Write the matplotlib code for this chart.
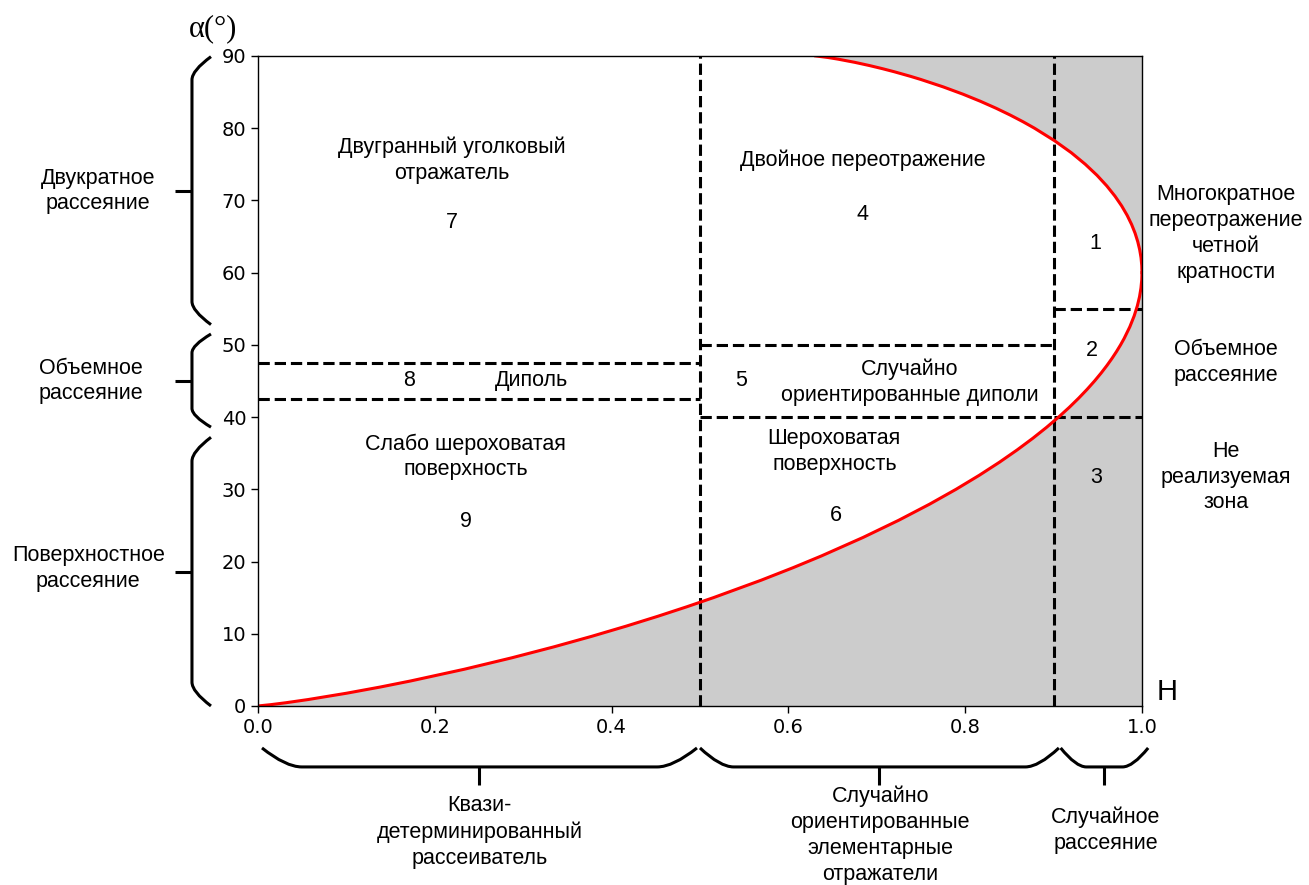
import matplotlib
matplotlib.use('Agg')
import matplotlib.pyplot as plt
from matplotlib.path import Path
from matplotlib.patches import PathPatch
import matplotlib.transforms as mtransforms

# ---------------- data ----------------
# lower boundary curve of the feasible H-alpha region
H_low = [0.0, 0.01437, 0.03167, 0.0568, 0.10022, 0.13825, 0.17266, 0.23371,
         0.28709, 0.33465, 0.37754, 0.41653, 0.45220, 0.48500, 0.51527,
         0.56934, 0.60507, 0.63732, 0.68449, 0.72484, 0.75959, 0.78969,
         0.81589, 0.83879, 0.85884, 0.87648, 0.89201, 0.90572, 0.91783,
         0.92853, 0.93800, 0.94640, 0.95382, 0.96038, 0.96619, 0.97130,
         0.97582, 0.97978, 0.98627, 0.99116, 0.99474, 0.99724, 0.99885,
         0.99975, 1.0]
alpha_low = [0.0, 0.18, 0.448, 0.891, 1.765, 2.621, 3.462, 5.094,
             6.667, 8.182, 9.643, 11.053, 12.414, 13.729, 15.0,
             17.419, 19.134, 20.769, 23.333, 25.714, 27.931, 30.0,
             31.935, 33.75, 35.455, 37.059, 38.571, 40.0, 41.351,
             42.632, 43.846, 45.0, 46.098, 47.143, 48.14, 49.09,
             50.0, 50.87, 52.5, 54.0, 55.385, 56.667, 57.857,
             59.0, 60.0]
# upper boundary curve
H_up = [0.63093, 0.64523, 0.65633, 0.67525, 0.69166, 0.70641, 0.71992,
        0.73836, 0.74966, 0.77515, 0.79745, 0.81723, 0.83493, 0.85086,
        0.86527, 0.87835, 0.90109, 0.92006, 0.93589, 0.94916, 0.96023,
        0.96944, 0.97705, 0.98326, 0.98827, 0.99222, 0.99523, 0.99743,
        0.99894, 0.99974, 1.0]
alpha_up = [90.0, 89.776, 89.552, 89.109, 88.67, 88.235, 87.805,
            87.167, 86.747, 85.714, 84.706, 83.72, 82.759, 81.818,
            80.899, 80.0, 78.261, 76.6, 75.0, 73.469, 72.0,
            70.588, 69.231, 67.925, 66.667, 65.455, 64.286, 63.158,
            62.069, 61.02, 60.0]

# zone boundaries
v_bounds = [0.5, 0.9]
hseg_x0 = [0.0, 0.0, 0.5, 0.5, 0.9, 0.9]
hseg_x1 = [0.5, 0.5, 0.9, 0.9, 1.0, 1.0]
hseg_y = [47.5, 42.5, 50.0, 40.0, 55.0, 40.0]

# zone texts (H, alpha, text)
zone_texts = [
    (0.219, 75.6, "Двугранный уголковый\nотражатель"),
    (0.219, 66.9, "7"),
    (0.684, 75.5, "Двойное переотражение"),
    (0.684, 68.1, "4"),
    (0.947, 64.0, "1"),
    (0.943, 49.2, "2"),
    (0.948, 31.7, "3"),
    (0.171, 45.0, "8"),
    (0.309, 45.0, "Диполь"),
    (0.546, 45.0, "5"),
    (0.7376, 44.8, "Случайно\nориентированные диполи"),
    (0.235, 34.5, "Слабо шероховатая\nповерхность"),
    (0.235, 25.6, "9"),
    (0.652, 35.2, "Шероховатая\nповерхность"),
    (0.654, 26.4, "6"),
]
right_texts = [
    (1.095, 65.4, "Многократное\nпереотражение\nчетной\nкратности"),
    (1.095, 47.6, "Объемное\nрассеяние"),
    (1.095, 31.7, "Не\nреализуемая\nзона"),
]
left_texts = [
    (-0.181, 71.3, "Двукратное\nрассеяние"),
    (-0.189, 45.0, "Объемное\nрассеяние"),
    (-0.192, 19.0, "Поверхностное\nрассеяние"),
]
bottom_texts = [
    (0.251, -17.45, "Квази-\nдетерминированный\nрассеиватель"),
    (0.704, -17.9, "Случайно\nориентированные\nэлементарные\nотражатели"),
    (0.959, -17.2, "Случайное\nрассеяние"),
]
# braces: ranges
left_brace_lo = [52.8, 38.6, 0.0]
left_brace_hi = [89.9, 51.5, 37.2]
left_brace_curl = [3.2, 2.6, 3.3]
bottom_brace_lo = [0.0045, 0.500, 0.908]
bottom_brace_hi = [0.4966, 0.906, 1.007]
bottom_brace_curl = [0.045, 0.038, 0.029]

xticks = [0.0, 0.2, 0.4, 0.6, 0.8, 1.0]
yticks = [0, 10, 20, 30, 40, 50, 60, 70, 80, 90]

# ---------------- figure ----------------
fig = plt.figure(figsize=(13.09, 8.85), dpi=100)
ax = fig.add_axes([0.1971, 0.2023, 0.6753, 0.7345])

TXT = dict(family=['Liberation Sans', 'DejaVu Sans'], fontsize=15.5, ha='center', va='center')

gray = '#cccccc'
ax.fill_between(H_low, 0, alpha_low, color=gray, lw=0, zorder=1)
ax.fill_between(H_up, alpha_up, 90, color=gray, lw=0, zorder=1)

for xv in v_bounds:
    ax.plot([xv, xv], [0, 90], ls='--', color='black', lw=2.2, zorder=3)
for x0, x1, y in zip(hseg_x0, hseg_x1, hseg_y):
    ax.plot([x0, x1], [y, y], ls='--', color='black', lw=2.2, zorder=3)

ax.plot(H_low, alpha_low, color='red', lw=2.2, zorder=4, solid_joinstyle='round')
ax.plot(H_up, alpha_up, color='red', lw=2.2, zorder=4, solid_joinstyle='round')

ax.set_xlim(0, 1)
ax.set_ylim(0, 90)
ax.set_xticks(xticks)
ax.set_yticks(yticks)
ax.set_xticklabels([f"{v:.1f}" for v in xticks])
ax.tick_params(labelsize=14, length=5, width=1.0)
for sp in ax.spines.values():
    sp.set_linewidth(1.0)
    sp.set_zorder(5)

for x, y, s in zone_texts + right_texts + left_texts + bottom_texts:
    ax.text(x, y, s, clip_on=False, linespacing=1.3, **TXT)

ax.text(-0.051, 93.7, "α(°)", family=['Liberation Serif', 'DejaVu Serif'],
        fontsize=22, ha='center', va='center', clip_on=False)
ax.text(1.029, 1.9, "H", family=['Liberation Sans', 'DejaVu Sans'],
        fontsize=21, ha='center', va='center', clip_on=False)

# ---------------- braces ----------------
BR = dict(fill=False, lw=2.2, edgecolor='black', clip_on=False, capstyle='butt', joinstyle='round')
trL = mtransforms.blended_transform_factory(ax.transAxes, ax.transData)
xt, xv_, xk = -0.0532, -0.0747, -0.0939
c = 0.6
for y0, y1, cu in zip(left_brace_lo, left_brace_hi, left_brace_curl):
    verts = [(xt, y1), (xv_, y1 - c * cu), (xv_, y1 - cu),
             (xv_, y0 + cu), (xv_, y0 + c * cu), (xt, y0)]
    codes = [Path.MOVETO, Path.CURVE3, Path.CURVE3, Path.LINETO, Path.CURVE3, Path.CURVE3]
    ax.add_patch(PathPatch(Path(verts, codes), transform=trL, **BR))
    ym = 0.5 * (y0 + y1)
    ax.add_patch(PathPatch(Path([(xv_, ym), (xk, ym)]), transform=trL, **BR))

trB = mtransforms.blended_transform_factory(ax.transData, ax.transAxes)
yt, yh, yk = -0.0646, -0.0938, -0.1215
for x0, x1, cu in zip(bottom_brace_lo, bottom_brace_hi, bottom_brace_curl):
    verts = [(x0, yt), (x0 + c * cu, yh), (x0 + cu, yh),
             (x1 - cu, yh), (x1 - c * cu, yh), (x1, yt)]
    codes = [Path.MOVETO, Path.CURVE3, Path.CURVE3, Path.LINETO, Path.CURVE3, Path.CURVE3]
    ax.add_patch(PathPatch(Path(verts, codes), transform=trB, **BR))
    xm = 0.5 * (x0 + x1)
    ax.add_patch(PathPatch(Path([(xm, yh), (xm, yk)]), transform=trB, **BR))

fig.savefig('out.png', dpi=100)
